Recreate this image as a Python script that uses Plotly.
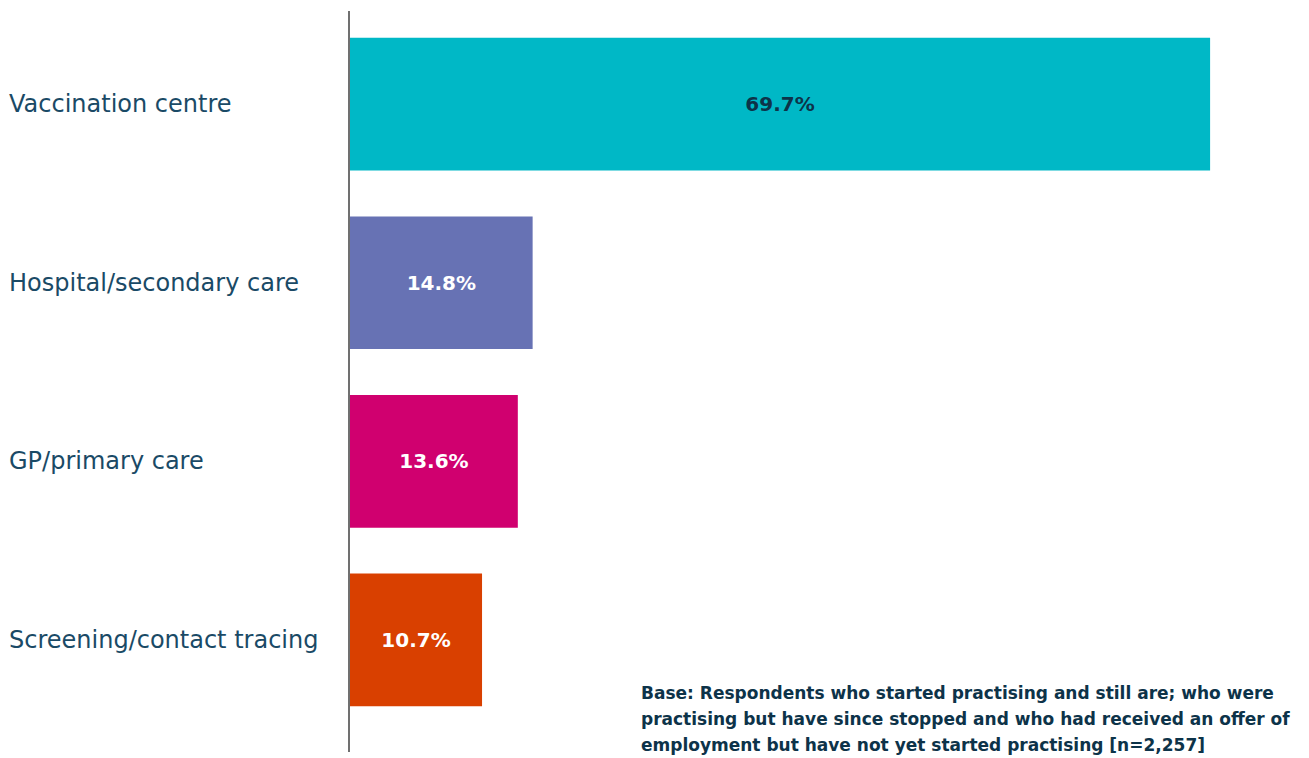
import plotly.graph_objects as go

categories = ["Vaccination centre", "Hospital/secondary care", "GP/primary care", "Screening/contact tracing"]
values = [69.7, 14.8, 13.6, 10.7]
bar_colors = ["#00b8c6", "#6772b4", "#d0006f", "#d94000"]
label_colors = ["#0d3349", "#ffffff", "#ffffff", "#ffffff"]
base_note = ["Base: Respondents who started practising and still are; who were",
             "practising but have since stopped and who had received an offer of",
             "employment but have not yet started practising [n=2,257]"]

# page body has an 8px margin, so shrink the figure and margins to compensate
W, H = 1309 - 8, 758 - 8
ML, MR, MT, MB = 342, 9, 3, 6
plot_w = W - ML - MR
plot_h = H - MT - MB

positions = list(range(len(categories)))

fig = go.Figure()
fig.add_trace(go.Bar(
    x=values, y=positions, orientation="h",
    marker=dict(color=bar_colors, line=dict(width=0)),
    width=0.743,
    text=[f"{v:.1f}%" for v in values],
    textposition="inside", insidetextanchor="middle",
    textfont=dict(family="DejaVu Sans", size=20, color=label_colors, weight="bold"),
    hoverinfo="skip", showlegend=False,
))

annotations = []
for p, c in zip(positions, categories):
    annotations.append(dict(
        x=-(ML + 1) / plot_w, xref="paper", y=p, yref="y",
        text=c, showarrow=False, xanchor="left", yanchor="middle",
        font=dict(family="DejaVu Sans", size=24, color="#1a4a66"),
    ))
# footnote, one annotation per line to get the wider line spacing
for i, line in enumerate(base_note):
    y_px = 685 + 26 * i
    annotations.append(dict(
        x=(631 - ML) / plot_w, xref="paper", y=(MT + plot_h - y_px) / plot_h, yref="paper",
        text=line, showarrow=False, xanchor="left", yanchor="middle", align="left",
        font=dict(family="DejaVu Sans", size=17, color="#0d3349", weight="bold"),
    ))

fig.update_layout(
    width=W, height=H,
    margin=dict(l=ML, r=MR, t=MT, b=MB),
    paper_bgcolor="white", plot_bgcolor="white",
    xaxis=dict(range=[0, plot_w / 12.34], visible=False),
    yaxis=dict(range=[3.628, -0.522], showticklabels=False, showgrid=False,
               zeroline=False, showline=True, linecolor="#707070", linewidth=1.5),
    annotations=annotations,
    uniformtext=dict(mode=False),
)

fig.write_html("out.html")
